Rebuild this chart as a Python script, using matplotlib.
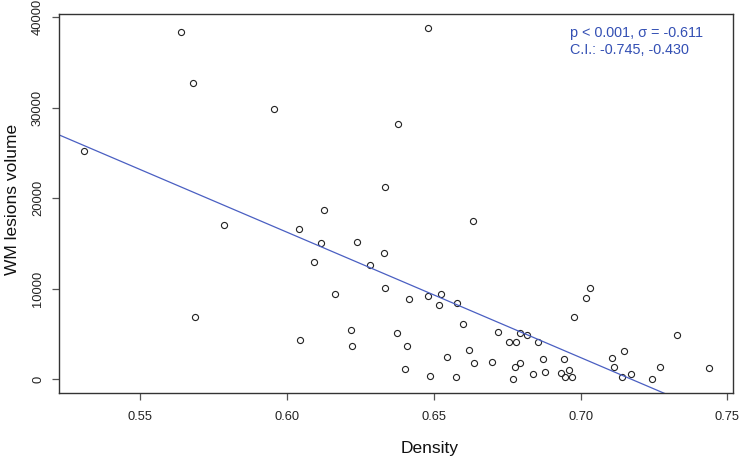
import matplotlib
matplotlib.use("Agg")
import matplotlib.pyplot as plt
import numpy as np

plt.rcParams['font.family'] = ['Liberation Sans', 'DejaVu Sans']

density = [0.5309, 0.5641, 0.5680, 0.5957, 0.6041, 0.6125, 0.5787, 0.5686, 0.6045, 0.6092,
           0.6115, 0.6165, 0.6217, 0.6221, 0.6240, 0.6283, 0.6330, 0.6333, 0.6417, 0.6479,
           0.6524, 0.6518, 0.6579, 0.6601, 0.6376, 0.6409, 0.6401, 0.6487, 0.6546, 0.6575,
           0.6621, 0.6636, 0.6698, 0.6718, 0.6756, 0.6781, 0.6793, 0.6817, 0.6854, 0.6775,
           0.6793, 0.6770, 0.6837, 0.6873, 0.6880, 0.6944, 0.6935, 0.6959, 0.6947, 0.6971,
           0.6977, 0.7017, 0.7031, 0.7107, 0.7113, 0.7149, 0.7140, 0.7172, 0.7244, 0.7272,
           0.7328, 0.7437, 0.6481, 0.6377, 0.6335, 0.6634]
wm_volume = [25227, 38410, 32775, 29868, 16641, 18708, 17050, 6851, 4376, 12995,
             15028, 9426, 5448, 3713, 15139, 12663, 13956, 10122, 8906, 9205,
             9426, 8210, 8464, 6111, 5116, 3680, 1105, 365, 2431, 287,
             3238, 1834, 1945, 5227, 4122, 4122, 5116, 4895, 4122, 1326,
             1801, 33, 553, 2243, 774, 2276, 696, 995, 221, 254,
             6851, 9017, 10122, 2354, 1392, 3094, 221, 553, 0, 1392,
             4895, 1249, 38852, 28178, 21249, 17525]

fit_intercept = 99389
fit_slope = -138553

x_ticks = [0.55, 0.60, 0.65, 0.70, 0.75]
x_tick_labels = ["0.55", "0.60", "0.65", "0.70", "0.75"]
y_ticks = [0, 10000, 20000, 30000, 40000]
y_tick_labels = ["0", "10000", "20000", "30000", "40000"]

stat_line1 = "p < 0.001, σ = -0.611"
stat_line2 = "C.I.: -0.745, -0.430"

fig = plt.figure(figsize=(7.4, 4.59), dpi=100)
ax = fig.add_axes([59.3/740, 1-393.3/459, (733.3-59.3)/740, (393.3-14)/459])

xlim = (0.5225, 0.752)
ylim = (-1547, 40365)
ax.set_xlim(*xlim)
ax.set_ylim(*ylim)

ax.plot(density, wm_volume, linestyle='none', marker='o', markersize=4.4,
        markerfacecolor='none', markeredgecolor='#222222', markeredgewidth=0.8)

xl = np.array(xlim)
ax.plot(xl, fit_intercept + fit_slope * xl, color='#4a5fc2', linewidth=0.9)

ax.set_xticks(x_ticks)
ax.set_xticklabels(x_tick_labels)
ax.set_yticks(y_ticks)
ax.set_yticklabels(y_tick_labels, rotation=90, va='center')
ax.tick_params(axis='both', direction='out', length=5, width=0.9, color='#555555',
               labelsize=9.3, labelcolor='#222222')
ax.tick_params(axis='x', pad=7.5)
ax.tick_params(axis='y', pad=6)
for s in ax.spines.values():
    s.set_color('#333333')
    s.set_linewidth(1.0)

fig.text(430/740, 1-448/459, "Density", ha='center', va='center', fontsize=12.5, color='#111111')
fig.text(12.5/740, 1-199/459, "WM lesions volume", ha='center', va='center', rotation=90,
         fontsize=12.5, color='#111111')

fig.text(570/740, 1-32.7/459, stat_line1, ha='left', va='center', fontsize=10.4, color='#3450b4')
fig.text(570/740, 1-50/459, stat_line2, ha='left', va='center', fontsize=10.4, color='#3450b4')

fig.savefig("out.png", dpi=100)
